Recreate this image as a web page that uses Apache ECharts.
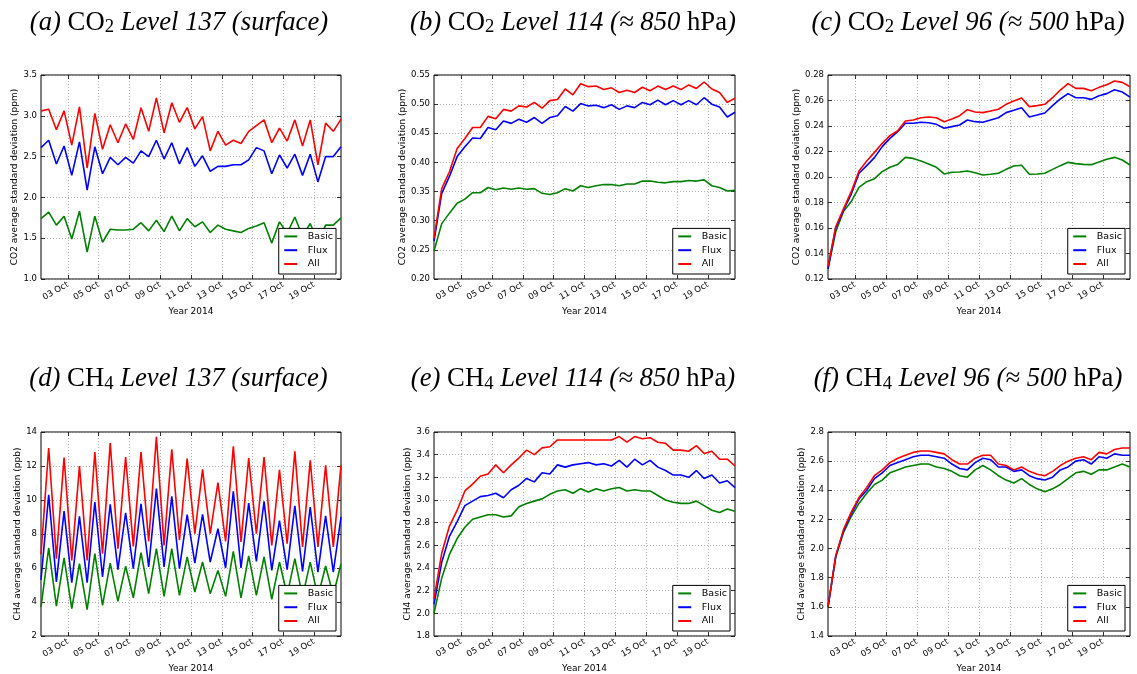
<!DOCTYPE html>
<html>
<head>
<meta charset="utf-8">
<script src="https://cdn.jsdelivr.net/npm/echarts@6/dist/echarts.min.js"></script>
<style>
html,body{margin:0;padding:0;background:#fff;}
#c{width:1137px;height:674px;}
</style>
</head>
<body>
<div id="c"></div>
<script>
// ---------- data ----------
// sample times (day of October 2014, every 12 h from Oct 1 06:00)
const times = [1.25,1.75,2.25,2.75,3.25,3.75,4.25,4.75,5.25,5.75,6.25,6.75,7.25,7.75,8.25,8.75,9.25,9.75,10.25,10.75,
               11.25,11.75,12.25,12.75,13.25,13.75,14.25,14.75,15.25,15.75,16.25,16.75,17.25,17.75,18.25,18.75,19.25,19.75,20.25,20.75];
const xTickDays = [3,5,7,9,11,13,15,17,19];
const xTickLabels = ['03 Oct','05 Oct','07 Oct','09 Oct','11 Oct','13 Oct','15 Oct','17 Oct','19 Oct'];
const xAxisTitle = 'Year 2014';
const seriesNames = ['Basic','Flux','All'];

// (a) CO2 level 137
const co2L137Basic = [1.74,1.82,1.66,1.77,1.49,1.83,1.33,1.77,1.45,1.61,1.60,1.60,1.61,1.69,1.59,1.72,1.58,1.77,1.59,1.74,
                      1.64,1.70,1.57,1.66,1.61,1.59,1.57,1.62,1.65,1.69,1.44,1.70,1.56,1.76,1.52,1.68,1.45,1.66,1.66,1.75];
const co2L137Flux  = [2.61,2.70,2.41,2.63,2.27,2.68,2.09,2.62,2.29,2.49,2.40,2.49,2.42,2.57,2.50,2.70,2.47,2.67,2.41,2.61,
                      2.38,2.51,2.32,2.38,2.38,2.40,2.40,2.46,2.61,2.57,2.29,2.52,2.36,2.53,2.27,2.53,2.19,2.50,2.50,2.62];
const co2L137All   = [3.06,3.08,2.83,3.06,2.64,3.11,2.36,3.03,2.59,2.89,2.67,2.90,2.71,3.10,2.81,3.22,2.79,3.16,2.92,3.10,
                      2.84,2.99,2.57,2.81,2.64,2.70,2.66,2.81,2.88,2.95,2.67,2.85,2.69,2.95,2.63,2.95,2.40,2.91,2.81,2.96];
// (b) CO2 level 114
const co2L114Basic = [0.248,0.295,0.313,0.330,0.337,0.348,0.348,0.357,0.353,0.356,0.354,0.356,0.354,0.355,0.347,0.345,0.348,0.355,0.351,0.360,
                      0.357,0.360,0.362,0.362,0.360,0.363,0.363,0.368,0.368,0.366,0.365,0.367,0.367,0.369,0.368,0.370,0.360,0.357,0.351,0.352];
const co2L114Flux  = [0.265,0.347,0.376,0.410,0.427,0.442,0.441,0.460,0.456,0.471,0.467,0.474,0.469,0.477,0.467,0.477,0.480,0.496,0.488,0.501,
                      0.497,0.498,0.494,0.499,0.491,0.497,0.494,0.503,0.499,0.507,0.499,0.506,0.499,0.506,0.499,0.511,0.500,0.495,0.478,0.486];
const co2L114All   = [0.270,0.355,0.384,0.424,0.441,0.460,0.460,0.479,0.475,0.491,0.488,0.497,0.495,0.503,0.493,0.506,0.508,0.526,0.516,0.535,
                      0.530,0.531,0.525,0.528,0.520,0.524,0.520,0.529,0.523,0.531,0.525,0.531,0.525,0.533,0.527,0.538,0.526,0.520,0.503,0.510];
// (c) CO2 level 96
const co2L96Basic = [0.128,0.157,0.173,0.1807,0.1919,0.1963,0.1987,0.2042,0.2076,0.2099,0.2154,0.2146,0.2125,0.2102,0.2076,0.2024,0.2037,0.2039,0.2047,0.2034,
                     0.2016,0.2021,0.2029,0.2060,0.2086,0.2092,0.2021,0.2024,0.2029,0.2060,0.2089,0.2115,0.2105,0.2099,0.2097,0.2118,0.2139,0.2154,0.2133,0.2094];
const co2L96Flux  = [0.128,0.160,0.174,0.1864,0.2029,0.2089,0.2152,0.2238,0.2303,0.2356,0.2421,0.2421,0.2429,0.2426,0.2413,0.2382,0.2395,0.2408,0.2447,0.2434,
                     0.2429,0.2447,0.2465,0.2505,0.2523,0.2544,0.2471,0.2486,0.2502,0.2560,0.2612,0.2654,0.2622,0.2622,0.2609,0.2638,0.2654,0.2685,0.2667,0.2627];
const co2L96All   = [0.130,0.161,0.175,0.1885,0.2047,0.2125,0.2193,0.2264,0.2324,0.2363,0.2439,0.2447,0.2465,0.2471,0.2465,0.2434,0.2455,0.2481,0.2528,0.2510,
                     0.2505,0.2518,0.2531,0.2570,0.2596,0.2620,0.2552,0.2560,0.2570,0.2622,0.2682,0.2732,0.2695,0.2695,0.2677,0.2703,0.2724,0.2753,0.2742,0.2708];
// (d) CH4 level 137
const ch4L137Basic = [3.70,7.18,3.76,6.59,3.61,6.25,3.55,6.84,3.80,6.29,4.04,6.10,4.25,6.90,4.49,7.14,4.33,7.14,4.39,6.65,
                      4.59,6.35,4.49,5.86,4.33,6.98,4.24,6.71,4.39,6.65,4.16,6.35,4.40,6.55,4.30,6.35,4.30,6.12,4.40,6.25];
const ch4L137Flux  = [5.30,10.31,5.18,9.35,5.14,9.04,5.14,9.88,5.47,9.75,5.90,9.25,5.96,9.78,6.06,10.67,6.06,10.22,5.96,9.14,
                      6.29,9.16,6.35,8.31,6.00,10.51,6.00,9.82,6.39,9.92,5.86,8.78,5.90,9.65,5.80,9.59,5.76,9.06,5.76,9.00];
const ch4L137All   = [6.80,13.06,6.55,12.49,6.45,12.00,6.45,12.82,6.84,13.35,7.14,12.53,7.27,12.82,7.57,13.71,7.33,12.98,7.63,12.43,
                      8.02,11.80,8.02,11.02,7.57,13.16,7.53,12.47,8.02,12.53,7.33,11.78,7.43,12.86,7.24,12.33,7.24,12.04,7.24,12.04];
// (e) CH4 level 114
const ch4L114Basic = [2.00,2.31,2.52,2.66,2.76,2.83,2.85,2.87,2.87,2.85,2.86,2.94,2.97,2.99,3.01,3.05,3.08,3.09,3.06,3.10,
                      3.07,3.10,3.08,3.10,3.11,3.08,3.09,3.08,3.08,3.04,3.00,2.98,2.97,2.97,2.99,2.95,2.91,2.89,2.92,2.90];
const ch4L114Flux  = [2.08,2.45,2.68,2.81,2.95,2.99,3.03,3.04,3.06,3.02,3.09,3.13,3.19,3.16,3.24,3.23,3.31,3.29,3.31,3.32,
                      3.33,3.31,3.32,3.30,3.35,3.29,3.36,3.31,3.35,3.29,3.26,3.22,3.22,3.20,3.26,3.19,3.22,3.15,3.17,3.11];
const ch4L114All   = [2.13,2.53,2.77,2.91,3.08,3.14,3.21,3.23,3.31,3.24,3.31,3.37,3.44,3.40,3.46,3.47,3.53,3.53,3.53,3.53,
                      3.53,3.53,3.53,3.53,3.56,3.51,3.56,3.54,3.55,3.51,3.50,3.44,3.44,3.43,3.48,3.41,3.43,3.36,3.36,3.30];
// (f) CH4 level 96
const ch4L96Basic = [1.60,1.94,2.11,2.22,2.31,2.38,2.44,2.47,2.52,2.54,2.56,2.57,2.58,2.58,2.56,2.55,2.53,2.50,2.49,2.54,
                     2.57,2.54,2.50,2.47,2.45,2.48,2.44,2.41,2.39,2.41,2.44,2.48,2.52,2.53,2.51,2.54,2.54,2.56,2.58,2.56];
const ch4L96Flux  = [1.60,1.95,2.12,2.24,2.34,2.40,2.48,2.52,2.57,2.59,2.61,2.63,2.64,2.64,2.63,2.62,2.58,2.55,2.54,2.59,
                     2.62,2.61,2.56,2.56,2.53,2.54,2.50,2.48,2.47,2.49,2.54,2.56,2.60,2.61,2.58,2.63,2.62,2.65,2.64,2.64];
const ch4L96All   = [1.60,1.95,2.13,2.25,2.35,2.42,2.50,2.54,2.59,2.62,2.64,2.66,2.67,2.67,2.66,2.65,2.61,2.58,2.58,2.62,
                     2.64,2.64,2.58,2.57,2.54,2.56,2.53,2.51,2.50,2.53,2.57,2.60,2.62,2.63,2.61,2.66,2.65,2.68,2.69,2.69];

// y tick labels
const yTickLabelsA = ['1.0','1.5','2.0','2.5','3.0','3.5'];
const yTickLabelsB = ['0.20','0.25','0.30','0.35','0.40','0.45','0.50','0.55'];
const yTickLabelsC = ['0.12','0.14','0.16','0.18','0.20','0.22','0.24','0.26','0.28'];
const yTickLabelsD = ['2','4','6','8','10','12','14'];
const yTickLabelsE = ['1.8','2.0','2.2','2.4','2.6','2.8','3.0','3.2','3.4','3.6'];
const yTickLabelsF = ['1.4','1.6','1.8','2.0','2.2','2.4','2.6','2.8'];

const co2YName = 'CO2 average standard deviation (ppm)';
const ch4YName = 'CH4 average standard deviation (ppb)';

// ---------- layout / style ----------
const W = 1137, H = 674;
const colors = ['#008000', '#0000ff', '#ff0000'];
const sans = 'DejaVu Sans';
const serif = 'Liberation Serif';

const panels = [
  {title:'{i|(a) }{r|CO}{s|2}{i| Level 137 (surface)}', tx:179, ty:7.5,
   g:{left:41, top:75, width:300, height:204}, yl:yTickLabelsA, yName:co2YName, gap:21,
   data:[co2L137Basic, co2L137Flux, co2L137All]},
  {title:'{i|(b) }{r|CO}{s|2}{i| Level 114 (≈ 850 }{r|hPa}{i|)}', tx:573, ty:7.5,
   g:{left:434, top:75, width:301, height:204}, yl:yTickLabelsB, yName:co2YName, gap:25.5,
   data:[co2L114Basic, co2L114Flux, co2L114All]},
  {title:'{i|(c) }{r|CO}{s|2}{i| Level 96 (≈ 500 }{r|hPa}{i|)}', tx:968, ty:7.5,
   g:{left:828, top:75, width:302, height:204}, yl:yTickLabelsC, yName:co2YName, gap:25.5,
   data:[co2L96Basic, co2L96Flux, co2L96All]},
  {title:'{i|(d) }{r|CH}{s|4}{i| Level 137 (surface)}', tx:178.5, ty:364,
   g:{left:41, top:432, width:300, height:204}, yl:yTickLabelsD, yName:ch4YName, gap:16,
   data:[ch4L137Basic, ch4L137Flux, ch4L137All]},
  {title:'{i|(e) }{r|CH}{s|4}{i| Level 114 (≈ 850 }{r|hPa}{i|)}', tx:573, ty:364,
   g:{left:434, top:432, width:301, height:204}, yl:yTickLabelsE, yName:ch4YName, gap:20,
   data:[ch4L114Basic, ch4L114Flux, ch4L114All]},
  {title:'{i|(f) }{r|CH}{s|4}{i| Level 96 (≈ 500 }{r|hPa}{i|)}', tx:968, ty:364,
   g:{left:828, top:432, width:302, height:204}, yl:yTickLabelsF, yName:ch4YName, gap:20,
   data:[ch4L96Basic, ch4L96Flux, ch4L96All]}
];

const tickStyle = {color:'#000', width:0.8};
const gridLineStyle = {color:'#9a9a9a', width:0.8, type:[1,2]};
const smallText = {fontFamily:sans, fontSize:8.5, color:'#000'};

const option = {
  animation:false, backgroundColor:'#fff',
  title:[], grid:[], xAxis:[], yAxis:[], legend:[], series:[]
};

function near(list, v){
  for (let i = 0; i < list.length; i++) if (Math.abs(list[i] - v) < 1e-6) return i;
  return -1;
}

panels.forEach((p, k) => {
  option.title.push({
    text:p.title, left:p.tx, top:p.ty, textAlign:'center', padding:0,
    textStyle:{
      fontFamily:serif, fontSize:26.7, fontWeight:'normal', color:'#000', lineHeight:30,
      rich:{
        i:{fontFamily:serif, fontSize:26.7, fontStyle:'italic', fontWeight:'normal', color:'#000', lineHeight:30},
        r:{fontFamily:serif, fontSize:26.7, fontStyle:'normal', fontWeight:'normal', color:'#000', lineHeight:30},
        s:{fontFamily:serif, fontSize:18.7, fontStyle:'normal', fontWeight:'normal', color:'#000', lineHeight:18, padding:[10,0,0,0]}
      }
    }
  });
  option.grid.push({
    left:p.g.left, top:p.g.top, width:p.g.width, height:p.g.height,
    show:true, borderColor:'#000', borderWidth:1, backgroundColor:'#fff',
    containLabel:false, outerBoundsMode:'none'
  });
  const yVals = p.yl.map(parseFloat);
  const yMin = yVals[0], yMax = yVals[yVals.length-1];
  const yInt = +(yVals[1] - yVals[0]).toFixed(6);
  const xMin = times[0], xMax = times[times.length-1];

  option.xAxis.push({
    gridIndex:k, type:'value', position:'bottom', min:xMin, max:xMax,
    name:xAxisTitle, nameLocation:'middle', nameGap:28,
    nameTextStyle:{fontFamily:sans, fontSize:9, color:'#000', lineHeight:10},
    axisLine:{show:false},
    axisTick:{show:true, inside:true, length:4, customValues:xTickDays, lineStyle:tickStyle},
    axisLabel:Object.assign({show:true, customValues:xTickDays, rotate:30, margin:5, hideOverlap:false,
      formatter:v => { const i = near(xTickDays, v); return i >= 0 ? xTickLabels[i] : ''; }}, smallText),
    splitLine:{show:true, lineStyle:gridLineStyle}
  });
  option.xAxis.push({
    gridIndex:k, type:'value', position:'top', min:xMin, max:xMax,
    axisLine:{show:false},
    axisTick:{show:true, inside:true, length:4, customValues:xTickDays, lineStyle:tickStyle},
    axisLabel:{show:false, customValues:xTickDays},
    splitLine:{show:false}
  });
  option.yAxis.push({
    gridIndex:k, type:'value', position:'left', min:yMin, max:yMax, interval:yInt,
    name:p.yName, nameLocation:'middle', nameGap:p.gap,
    nameTextStyle:{fontFamily:sans, fontSize:9, color:'#000', lineHeight:10},
    axisLine:{show:false},
    axisTick:{show:true, inside:true, length:4, lineStyle:tickStyle},
    axisLabel:Object.assign({show:true, margin:4, showMinLabel:true, showMaxLabel:true, hideOverlap:false,
      formatter:v => { const i = near(yVals, v); return i >= 0 ? p.yl[i] : ''; }}, smallText),
    splitLine:{show:true, lineStyle:gridLineStyle}
  });
  option.yAxis.push({
    gridIndex:k, type:'value', position:'right', min:yMin, max:yMax, interval:yInt,
    axisLine:{show:false},
    axisTick:{show:true, inside:true, length:4, lineStyle:tickStyle},
    axisLabel:{show:false},
    splitLine:{show:false}
  });
  option.legend.push({
    data:seriesNames, orient:'vertical', selectedMode:false, z:10,
    right:W - (p.g.left + p.g.width) + 5, bottom:H - (p.g.top + p.g.height) + 5,
    icon:'rect', itemWidth:13, itemHeight:2, itemGap:1.8,
    padding:[2,3,4,5.5], borderColor:'#000', borderWidth:1, borderRadius:0, backgroundColor:'#fff',
    textStyle:{fontFamily:sans, fontSize:9.5, color:'#000', lineHeight:12, padding:[0,0,0,5.6]}
  });
  p.data.forEach((arr, s) => {
    option.series.push({
      type:'line', name:seriesNames[s], xAxisIndex:2*k, yAxisIndex:2*k,
      data:times.map((t, i) => [t, arr[i]]),
      showSymbol:false, symbol:'none', smooth:false, color:colors[s],
      itemStyle:{color:colors[s]},
      lineStyle:{color:colors[s], width:1.6},
      emphasis:{disabled:true}, z:2 + s
    });
  });
});

const chart = echarts.init(document.getElementById('c'), null, {renderer:'canvas', width:W, height:H});
chart.setOption(option);
</script>
</body>
</html>
